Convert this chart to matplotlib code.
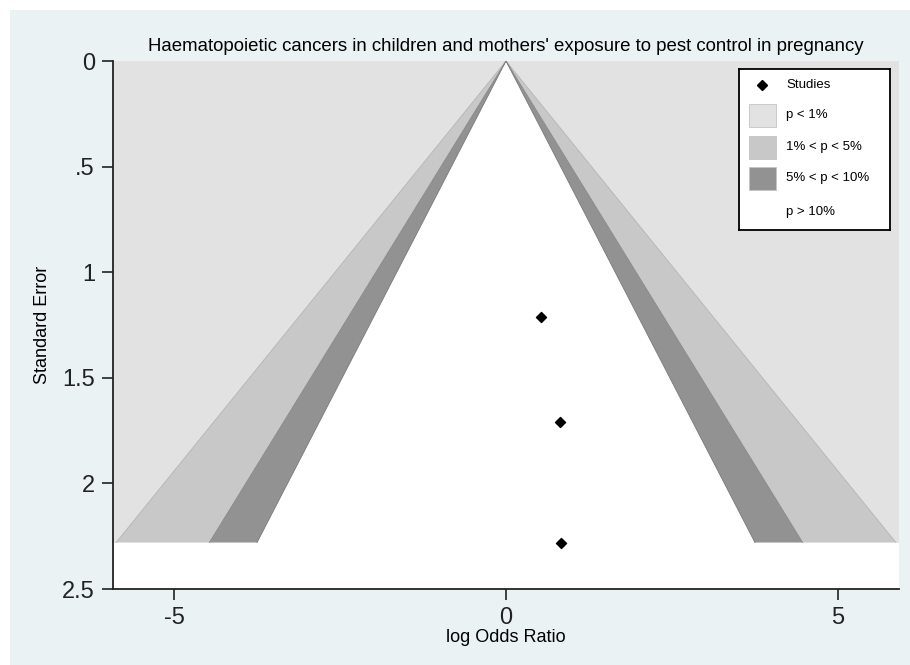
import matplotlib
matplotlib.use("Agg")
import matplotlib.pyplot as plt
from matplotlib.patches import Rectangle, Polygon

# Study estimates: log odds ratio and its standard error
log_or = [0.52, 0.81, 0.83]
std_err = [1.21, 1.71, 2.28]

# Contour significance levels (two-sided z cut-offs, outermost first) and fills
contour_z = [2.576, 1.96, 1.645]
band_fill = ["#e2e2e2", "#c8c8c8", "#929292"]

legend_labels = ["Studies", "p < 1%", "1% < p < 5%", "5% < p < 10%", "p > 10%"]
x_ticks = [-5, 0, 5]
y_ticks = [0, 0.5, 1, 1.5, 2, 2.5]
y_tick_labels = ["0", ".5", "1", "1.5", "2", "2.5"]

plt.rcParams["font.family"] = ["Liberation Sans", "DejaVu Sans"]

W, H = 910, 665
bg = "#eaf2f3"
fig = plt.figure(figsize=(W / 100, H / 100), dpi=100)
fig.patch.set_facecolor(bg)
# thin white margin along the left and top edges
fig.add_artist(Rectangle((0, 0), 10 / W, 1, transform=fig.transFigure,
                         facecolor="white", edgecolor="none", zorder=-10))
fig.add_artist(Rectangle((0, 1 - 10 / H), 1, 10 / H, transform=fig.transFigure,
                         facecolor="white", edgecolor="none", zorder=-10))

left, right, top, bottom = 113, 899, 61, 589
ax = fig.add_axes([left / W, 1 - bottom / H, (right - left) / W, (bottom - top) / H])
ax.set_facecolor("white")

xmin, xmax = -5.92, 5.92
ax.set_xlim(xmin, xmax)
ax.set_ylim(2.5, 0)

# significance bands, drawn as separate non-overlapping regions
smax = max(std_err)
for sign in (-1, 1):
    edge = xmin if sign < 0 else xmax
    ax.add_patch(Polygon([(0, 0), (edge, 0), (edge, smax), (sign * contour_z[0] * smax, smax)],
                         closed=True, facecolor=band_fill[0], edgecolor="none", zorder=1))
    for i in range(2):
        z_out, z_in = contour_z[i], contour_z[i + 1]
        ax.add_patch(Polygon([(0, 0), (sign * z_out * smax, smax), (sign * z_in * smax, smax)],
                             closed=True, facecolor=band_fill[i + 1], edgecolor="none", zorder=1))
edge_cols = ["#b4b4b4", "#888888", "#7a7a7a"]
for z, ec in zip(contour_z, edge_cols):
    ax.plot([-z * smax, 0, z * smax], [smax, 0, smax], color=ec, linewidth=0.6, zorder=3)

ax.scatter(log_or, std_err, marker="D", s=26, color="black", zorder=5)

for s in ["top", "right"]:
    ax.spines[s].set_visible(False)
for s in ["left", "bottom"]:
    ax.spines[s].set_linewidth(1.3)
    ax.spines[s].set_color("#222222")
    ax.spines[s].set_zorder(6)

ax.set_xticks(x_ticks)
ax.set_xticklabels([str(t) for t in x_ticks])
ax.set_yticks(y_ticks)
ax.set_yticklabels(y_tick_labels)
ax.tick_params(axis="both", direction="out", length=8, width=1.2, color="#222222",
               labelsize=17, pad=5, labelcolor="#222222")

ax.set_xlabel("log Odds Ratio", fontsize=13, labelpad=0)
ax.set_ylabel("Standard Error", fontsize=13, labelpad=8)
ax.set_title("Haematopoietic cancers in children and mothers' exposure to pest control in pregnancy",
             fontsize=13.4, pad=7)

# legend box
lx0, ly0, lx1, ly1 = 739, 69, 890, 230
lax = fig.add_axes([lx0 / W, 1 - ly1 / H, (lx1 - lx0) / W, (ly1 - ly0) / H])
lax.set_xlim(lx0, lx1)
lax.set_ylim(ly1, ly0)
lax.set_xticks([])
lax.set_yticks([])
lax.set_facecolor("white")
for s in lax.spines.values():
    s.set_linewidth(1.3)
rows = [85, 115, 147, 178, 212]
lax.plot([762], [rows[0]], marker="D", markersize=5, color="black")
for yv, c in zip(rows[1:4], band_fill):
    lax.add_patch(Rectangle((749, yv - 11.5), 27, 23, facecolor=c, edgecolor="#c4c4c4", linewidth=0.6))
for yv, lab in zip(rows, legend_labels):
    lax.text(786, yv, lab, fontsize=9.5, va="center", ha="left")

fig.savefig("out.png", dpi=100, facecolor=fig.get_facecolor())
